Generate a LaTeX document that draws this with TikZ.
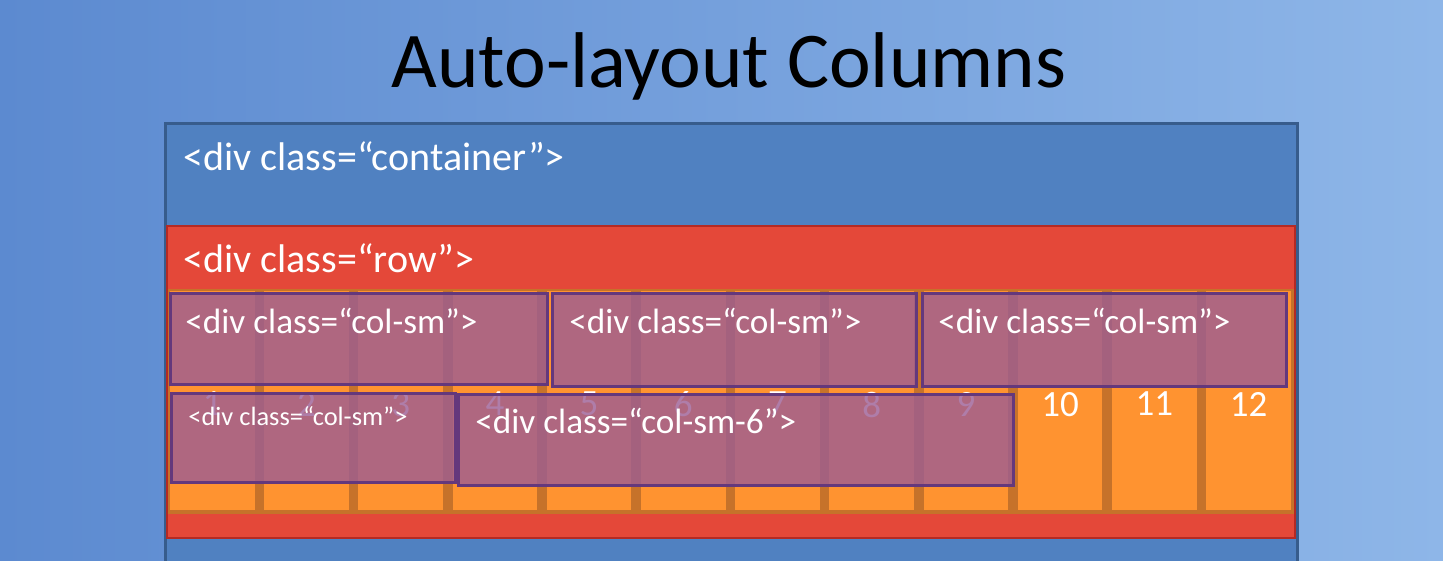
\documentclass[tikz,border=0pt]{standalone}
\usepackage{fontspec}
\setmainfont{Carlito}
\usetikzlibrary{positioning}

\definecolor{skyleft}{RGB}{92,138,208}
\definecolor{skyright}{RGB}{142,182,232}
\definecolor{contblue}{RGB}{80,129,193}
\definecolor{contedge}{RGB}{55,92,140}
\definecolor{rowred}{RGB}{228,72,57}
\definecolor{rowedge}{RGB}{180,42,36}
\definecolor{colorange}{RGB}{255,147,48}
\definecolor{colgap}{RGB}{198,114,42}
\definecolor{smfill}{RGB}{156,93,148}
\definecolor{smedge}{RGB}{100,56,124}

\begin{document}
\begin{tikzpicture}[x=0.5pt,y=-0.5pt]
                    \tikzstyle{column}=[rectangle,fill=colorange,inner sep=0pt,minimum width=42.25pt,minimum height=109.5pt]
                    \tikzstyle{num}=[inner sep=0pt,text=white,font=\fontsize{18.5}{20}\selectfont]
                    \tikzstyle{tag}=[anchor=base west,inner sep=0pt,text=white,font=\fontsize{20}{24}\selectfont]
                    \tikzstyle{smtag}=[tag,font=\fontsize{17.6}{20}\selectfont]
                    \tikzstyle{smbox}=[fill=smfill,fill opacity=0.8,draw=smedge,line width=1.5pt]

                    \useasboundingbox (0,0) rectangle (1443,561);
                    \shade [left color=skyleft,right color=skyright] (0,0) rectangle (1443,561);

                    \node (title) at (729,88) [anchor=base,inner sep=0pt,font=\fontsize{39.5}{44}\selectfont] {Auto-layout Columns};

                    \draw [fill=contblue,draw=contedge,line width=1.5pt] (165,124) rectangle (1297,600);
                    \draw [fill=rowred,draw=rowedge,line width=1pt] (167,226) rectangle (1295,538);
                    \fill [colgap] (168,289) rectangle (1294,514);

                    \node (lcont) at (183,170) [tag] {<div class=“container”>};
                    \node (lrow) at (183,272) [tag] {<div class=“row”>};

                    \node (col1) at (212.3,400.5) [column] {};
                    \node (col2) at (306.5,400.5) [column] {};
                    \node (col3) at (400.7,400.5) [column] {};
                    \node (col4) at (494.9,400.5) [column] {};
                    \node (col5) at (589.1,400.5) [column] {};
                    \node (col6) at (683.3,400.5) [column] {};
                    \node (col7) at (777.5,400.5) [column] {};
                    \node (col8) at (871.7,400.5) [column] {};
                    \node (col9) at (965.9,400.5) [column] {};
                    \node (col10) at (1060.1,400.5) [column] {};
                    \node (col11) at (1154.3,400.5) [column] {};
                    \node (col12) at (1248.5,400.5) [column] {};

                    \node (n1) [num,below=50.5pt of col1.north] {1};
                    \node (n2) [num,below=50.5pt of col2.north] {2};
                    \node (n3) [num,below=50.5pt of col3.north] {3};
                    \node (n4) [num,below=50.5pt of col4.north] {4};
                    \node (n5) [num,below=50.5pt of col5.north] {5};
                    \node (n6) [num,below=50.5pt of col6.north] {6};
                    \node (n7) [num,below=50.5pt of col7.north] {7};
                    \node (n8) [num,below=50.5pt of col8.north] {8};
                    \node (n9) [num,below=50.5pt of col9.north] {9};
                    \node (n10) [num,below=50.5pt of col10.north] {10};
                    \node (n11) [num,below=50.5pt of col11.north] {11};
                    \node (n12) [num,below=50.5pt of col12.north] {12};

                    \draw [smbox] (170,293) rectangle (547,384);
                    \draw [smbox] (552,293) rectangle (916,386);
                    \draw [smbox] (922,293) rectangle (1286,386);
                    \draw [smbox] (171,393) rectangle (455,482);
                    \draw [smbox] (458,394) rectangle (1013,485);

                    \node (lsm1) at (185,333) [smtag] {<div class=“col-sm”>};
                    \node (lsm2) at (569,333) [smtag] {<div class=“col-sm”>};
                    \node (lsm3) at (938,333) [smtag] {<div class=“col-sm”>};
                    \node (lsm4) at (188,425) [tag,font=\fontsize{13.2}{16}\selectfont] {<div class=“col-sm”>};
                    \node (lsm6) at (475,433) [smtag] {<div class=“col-sm-6”>};
                \end{tikzpicture}
\end{document}
